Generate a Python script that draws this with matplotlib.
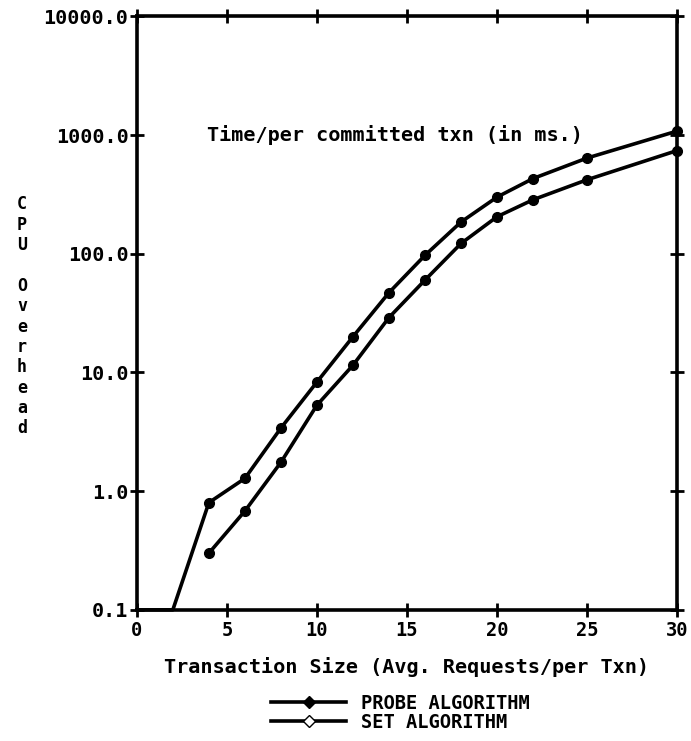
import numpy as np
import matplotlib.pyplot as plt
from matplotlib.lines import Line2D

# values
x_probe = [0, 2, 4, 6, 8, 10, 12, 14, 16, 18, 20, 22, 25, 30]
y_probe = [0.1, 0.1, 0.8, 1.28, 3.4, 8.3, 20, 47, 97, 185, 300, 430, 640, 1080]
x_set = [4, 6, 8, 10, 12, 14, 16, 18, 20, 22, 25, 30]
y_set = [0.30, 0.68, 1.75, 5.3, 11.5, 29, 60, 122, 205, 285, 420, 740]

xticks = [0, 5, 10, 15, 20, 25, 30]
yticks = [0.1, 1, 10, 100, 1000, 10000]
ytick_labels = ["0.1", "1.0", "10.0", "100.0", "1000.0", "10000.0"]

fnt = "DejaVu Sans Mono"

fig = plt.figure(figsize=(6.91, 7.41), dpi=100)
ax = fig.add_axes([0.198, 0.177, 0.782, 0.801])

ax.plot(x_probe, y_probe, color="black", lw=2.6, marker="o", ms=7,
        markevery=list(range(2, len(x_probe))), clip_on=False, zorder=3)
ax.plot(x_set, y_set, color="black", lw=2.6, marker="o", ms=7,
        clip_on=False, zorder=3)

ax.set_yscale("log")
ax.set_xlim(0, 30)
ax.set_ylim(0.1, 10000)
ax.set_xticks(xticks)
ax.set_xticklabels([str(t) for t in xticks], fontfamily=fnt, fontweight="bold", fontsize=13.5)
ax.set_yticks(yticks)
ax.set_yticklabels(ytick_labels, fontfamily=fnt, fontweight="bold", fontsize=14.5)
ax.minorticks_off()
ax.tick_params(direction="inout", length=10, width=2, pad=1)
ax.tick_params(axis="x", pad=3)
ax.tick_params(right=True, top=True)

for s in ax.spines.values():
    s.set_linewidth(2.6)

ax.text(3.9, 1000, "Time/per committed txn (in ms.)", fontfamily=fnt,
        fontweight="bold", fontsize=14.5, va="center", ha="left")

ax.set_xlabel("Transaction Size (Avg. Requests/per Txn)", fontfamily=fnt,
              fontweight="bold", fontsize=14.5, labelpad=12)

# vertical stacked y label
fig.text(0.032, 0.573, "\n".join("CPU Overhead"), fontfamily=fnt, fontweight="bold",
         fontsize=12, ha="center", va="center", linespacing=1.17)

handles = [Line2D([], [], color="black", lw=2.6, marker="D", ms=6),
           Line2D([], [], color="black", lw=2.6, marker="D", ms=6, mfc="white")]
fig.legend(handles, ["PROBE ALGORITHM", "SET ALGORITHM"], loc="center",
           bbox_to_anchor=(0.58, 0.038), frameon=False, handlelength=4.0,
           labelspacing=0.0, prop={"family": fnt, "weight": "bold", "size": 13.5})

fig.savefig("out.png", dpi=100)
